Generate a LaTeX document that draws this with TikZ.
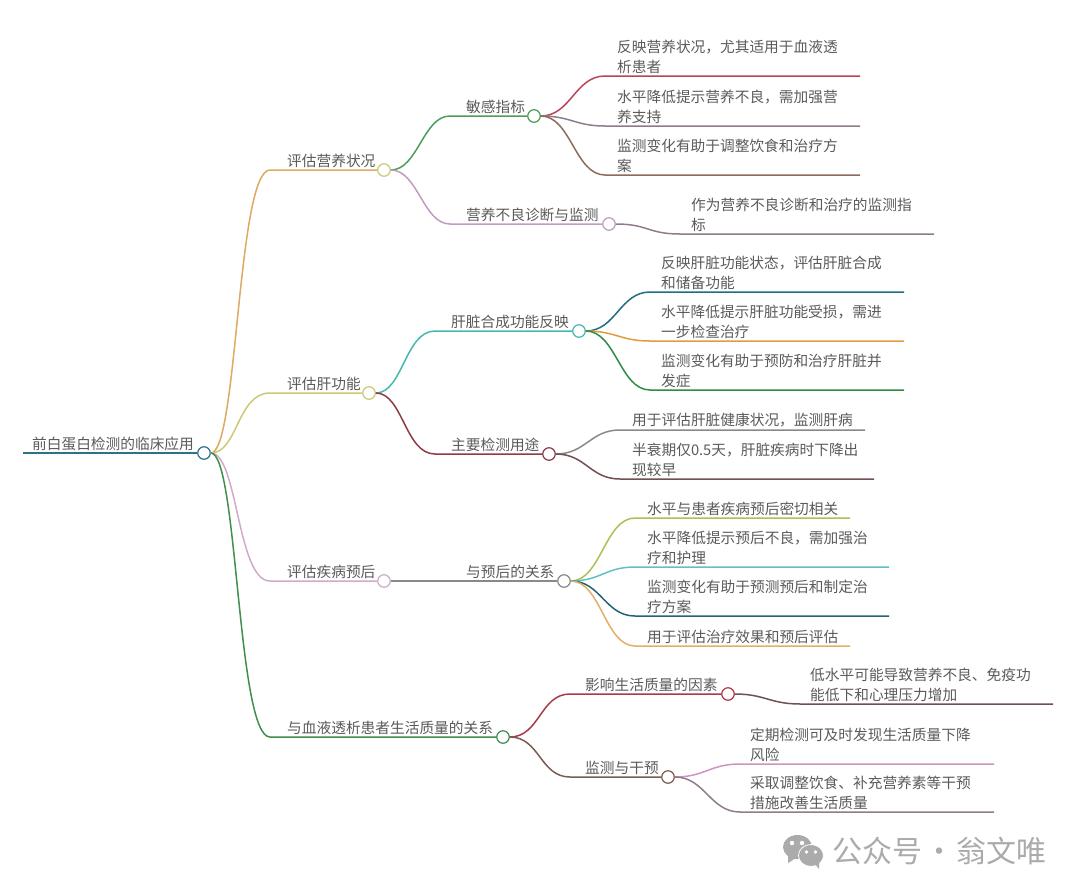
\documentclass[tikz,border=0pt]{standalone}
\usepackage{fontspec}
\setmainfont{Noto Sans CJK SC}
\usetikzlibrary{positioning}
\definecolor{txtgray}{HTML}{5A5A5A}
\definecolor{markgray}{HTML}{ABABAB}
\definecolor{cteal}{HTML}{2F7285}
\definecolor{ctan}{HTML}{DDA963}
\definecolor{colive}{HTML}{CCC878}
\definecolor{cpink}{HTML}{D3A9C9}
\definecolor{cgreen}{HTML}{3E8F50}
\definecolor{cleaf}{HTML}{4E9C58}
\definecolor{cmauve}{HTML}{C29CBE}
\definecolor{cturq}{HTML}{45B9B0}
\definecolor{cwine}{HTML}{8B3C47}
\definecolor{cgray}{HTML}{8C8888}
\definecolor{cred}{HTML}{A83A4A}
\definecolor{cbrown}{HTML}{7A5C52}
\definecolor{crose}{HTML}{B84656}
\definecolor{cplum}{HTML}{8E7C8C}
\definecolor{cumber}{HTML}{8C6C5C}
\definecolor{cdeep}{HTML}{1F6F80}
\definecolor{camber}{HTML}{E09C3C}
\definecolor{cforest}{HTML}{2F8B46}
\definecolor{cdark}{HTML}{705050}
\definecolor{clime}{HTML}{A9C155}
\definecolor{csky}{HTML}{60C0C4}
\definecolor{cnavy}{HTML}{226274}
\definecolor{csand}{HTML}{E0B064}
\definecolor{cfuchsia}{HTML}{D092C2}
\tikzset{
  label/.style={anchor=south west, inner sep=0pt, align=left, text=txtgray, yshift=-0.7pt, font=\fontsize{14.7}{20}\selectfont},
  dot/.style={circle, draw, fill=white, inner sep=0pt, minimum size=12.5pt, line width=1.2pt},
  link/.style={line width=1.5pt},
  rootlink/.style={line width=2.2pt}
}
\begin{document}
\begin{tikzpicture}[x=1pt,y=-1pt]
  \useasboundingbox (0,0) rectangle (1080,895);
  \node[dot,draw=cteal] (root) at (204,453) {};
  \node[dot,draw=colive] (nutri) at (384,170) {};
  \node[dot,draw=colive] (liver) at (369,393) {};
  \node[dot,draw=cpink] (prog) at (384,581) {};
  \node[dot,draw=cgreen] (life) at (503,737) {};
  \node[dot,draw=cleaf] (sens) at (534,116) {};
  \node[dot,draw=cmauve] (diag) at (609,224) {};
  \node[dot,draw=cturq] (synth) at (579,331) {};
  \node[dot,draw=cwine] (usage) at (549,454) {};
  \node[dot,draw=cgray] (rel) at (564,581) {};
  \node[dot,draw=cred] (factor) at (728,694) {};
  \node[dot,draw=cbrown] (watch) at (668,777) {};

  \coordinate (rootstart) at (23,453);
  \coordinate (nutrielbow) at (270,170);
  \coordinate (liverelbow) at (270,393);
  \coordinate (progelbow) at (270,581);
  \coordinate (lifeelbow) at (270,737);
  \coordinate (senselbow) at (450,116);
  \coordinate (diagelbow) at (450,224);
  \coordinate (synthelbow) at (435,331);
  \coordinate (usageelbow) at (435,454);
  \coordinate (factorelbow) at (570,694);
  \coordinate (watchelbow) at (570,777);

  \draw[rootlink,cteal] (rootstart) -- (root.west);
  \draw[link,ctan] (root.east) .. controls +(27,0) and +(-33,0) .. (nutrielbow) -- (nutri.west);
  \draw[link,colive] (root.east) .. controls +(27,0) and +(-33,0) .. (liverelbow) -- (liver.west);
  \draw[link,cpink] (root.east) .. controls +(27,0) and +(-33,0) .. (progelbow) -- (prog.west);
  \draw[link,cgreen] (root.east) .. controls +(27,0) and +(-33,0) .. (lifeelbow) -- (life.west);
  \draw[link,cleaf] (nutri.east) .. controls +(27,0) and +(-27,0) .. (senselbow) -- (sens.west);
  \draw[link,cmauve] (nutri.east) .. controls +(27,0) and +(-27,0) .. (diagelbow) -- (diag.west);
  \draw[link,cturq] (liver.east) .. controls +(27,0) and +(-30,0) .. (synthelbow) -- (synth.west);
  \draw[link,cwine] (liver.east) .. controls +(27,0) and +(-30,0) .. (usageelbow) -- (usage.west);
  \draw[link,cgray] (prog.east) -- (rel.west);
  \draw[link,cred] (life.east) .. controls +(30,0) and +(-30,0) .. (factorelbow) -- (factor.west);
  \draw[link,cbrown] (life.east) .. controls +(30,0) and +(-30,0) .. (watchelbow) -- (watch.west);

  \node[label] (roottxt) at (32,450) {前白蛋白检测的临床应用};
  \node[label] (nutritxt) at (287,167) {评估营养状况};
  \node[label] (livertxt) at (287,390) {评估肝功能};
  \node[label] (progtxt) at (287,578) {评估疾病预后};
  \node[label] (lifetxt) at (287,734) {与血液透析患者生活质量的关系};
  \node[label] (senstxt) at (466,113) {敏感指标};
  \node[label] (diagtxt) at (466,221) {营养不良诊断与监测};
  \node[label] (synthtxt) at (451,328) {肝脏合成功能反映};
  \node[label] (usagetxt) at (451,451) {主要检测用途};
  \node[label] (reltxt) at (466,578) {与预后的关系};
  \node[label] (factortxt) at (585,691) {影响生活质量的因素};
  \node[label] (watchtxt) at (585,774) {监测与干预};

  \node[label] (a1) at (617,73) {反映营养状况，尤其适用于血液透\\析患者};
  \node[label] (a2) at (617,123) {水平降低提示营养不良，需加强营\\养支持};
  \node[label] (a3) at (617,172) {监测变化有助于调整饮食和治疗方\\案};
  \node[label] (b1) at (691,231) {作为营养不良诊断和治疗的监测指\\标};
  \node[label] (c1) at (661,289) {反映肝脏功能状态，评估肝脏合成\\和储备功能};
  \node[label] (c2) at (661,338) {水平降低提示肝脏功能受损，需进\\一步检查治疗};
  \node[label] (c3) at (661,387) {监测变化有助于预防和治疗肝脏并\\发症};
  \node[label] (d1) at (632,427) {用于评估肝脏健康状况，监测肝病};
  \node[label] (d2) at (632,476) {半衰期仅0.5天，肝脏疾病时下降出\\现较早};
  \node[label] (e1) at (647,515) {水平与患者疾病预后密切相关};
  \node[label] (e2) at (647,564) {水平降低提示预后不良，需加强治\\疗和护理};
  \node[label] (e3) at (647,613) {监测变化有助于预测预后和制定治\\疗方案};
  \node[label] (e4) at (647,643) {用于评估治疗效果和预后评估};
  \node[label] (f1) at (810,701) {低水平可能导致营养不良、免疫功\\能低下和心理压力增加};
  \node[label] (g1) at (750,761) {定期检测可及时发现生活质量下降\\风险};
  \node[label] (g2) at (750,809) {采取调整饮食、补充营养素等干预\\措施改善生活质量};

  \coordinate (a1elbow) at (605,76);
  \coordinate (a2elbow) at (605,126);
  \coordinate (a3elbow) at (605,175);
  \coordinate (b1elbow) at (680,234);
  \coordinate (c1elbow) at (650,292);
  \coordinate (c2elbow) at (650,341);
  \coordinate (c3elbow) at (650,390);
  \coordinate (d1elbow) at (620,430);
  \coordinate (d2elbow) at (620,479);
  \coordinate (e1elbow) at (635,518);
  \coordinate (e2elbow) at (635,567);
  \coordinate (e3elbow) at (635,616);
  \coordinate (e4elbow) at (635,646);
  \coordinate (f1elbow) at (800,704);
  \coordinate (g1elbow) at (740,764);
  \coordinate (g2elbow) at (740,812);

  \coordinate (a1end) at (860,76);
  \coordinate (a2end) at (860,126);
  \coordinate (a3end) at (860,175);
  \coordinate (b1end) at (934,234);
  \coordinate (c1end) at (904,292);
  \coordinate (c2end) at (904,341);
  \coordinate (c3end) at (904,390);
  \coordinate (d1end) at (865,430);
  \coordinate (d2end) at (874,479);
  \coordinate (e1end) at (850,518);
  \coordinate (e2end) at (889,567);
  \coordinate (e3end) at (889,616);
  \coordinate (e4end) at (850,646);
  \coordinate (f1end) at (1053,704);
  \coordinate (g1end) at (994,764);
  \coordinate (g2end) at (994,812);

  \draw[link,crose] (sens.east) .. controls +(30,0) and +(-30,0) .. (a1elbow) -- (a1end);
  \draw[link,cplum] (sens.east) .. controls +(30,0) and +(-30,0) .. (a2elbow) -- (a2end);
  \draw[link,cumber] (sens.east) .. controls +(30,0) and +(-30,0) .. (a3elbow) -- (a3end);
  \draw[link,cplum] (diag.east) .. controls +(32,0) and +(-32,0) .. (b1elbow) -- (b1end);
  \draw[link,cdeep] (synth.east) .. controls +(30,0) and +(-30,0) .. (c1elbow) -- (c1end);
  \draw[link,camber] (synth.east) .. controls +(30,0) and +(-30,0) .. (c2elbow) -- (c2end);
  \draw[link,cforest] (synth.east) .. controls +(30,0) and +(-30,0) .. (c3elbow) -- (c3end);
  \draw[link,cgray] (usage.east) .. controls +(30,0) and +(-30,0) .. (d1elbow) -- (d1end);
  \draw[link,cdark] (usage.east) .. controls +(30,0) and +(-30,0) .. (d2elbow) -- (d2end);
  \draw[link,clime] (rel.east) .. controls +(30,0) and +(-30,0) .. (e1elbow) -- (e1end);
  \draw[link,csky] (rel.east) .. controls +(30,0) and +(-30,0) .. (e2elbow) -- (e2end);
  \draw[link,cnavy] (rel.east) .. controls +(30,0) and +(-30,0) .. (e3elbow) -- (e3end);
  \draw[link,csand] (rel.east) .. controls +(30,0) and +(-30,0) .. (e4elbow) -- (e4end);
  \draw[link,cdark] (factor.east) .. controls +(30,0) and +(-30,0) .. (f1elbow) -- (f1end);
  \draw[link,cfuchsia] (watch.east) .. controls +(30,0) and +(-30,0) .. (g1elbow) -- (g1end);
  \draw[link,cplum] (watch.east) .. controls +(30,0) and +(-30,0) .. (g2elbow) -- (g2end);

  \fill[markgray] (797.5,847) ellipse (14.5 and 12);
  \fill[markgray] (788,856) -- (788,863) -- (796,858) -- cycle;
  \fill[markgray,draw=white,line width=0.8pt] (811,855.5) ellipse (12.5 and 11);
  \fill[markgray] (815,864) -- (819,869) -- (819,862) -- cycle;
  \fill[white] (792,843) circle (2.2) (802,843) circle (2.2) (806.5,852) circle (1.8) (815.5,852) circle (1.8);
  \node[anchor=west, inner sep=0pt, text=markgray, font=\fontsize{30}{31}\selectfont] (mark) at (832,851) {公众号\hspace{2pt}·\hspace{2pt}翁文唯};
\end{tikzpicture}
\end{document}
